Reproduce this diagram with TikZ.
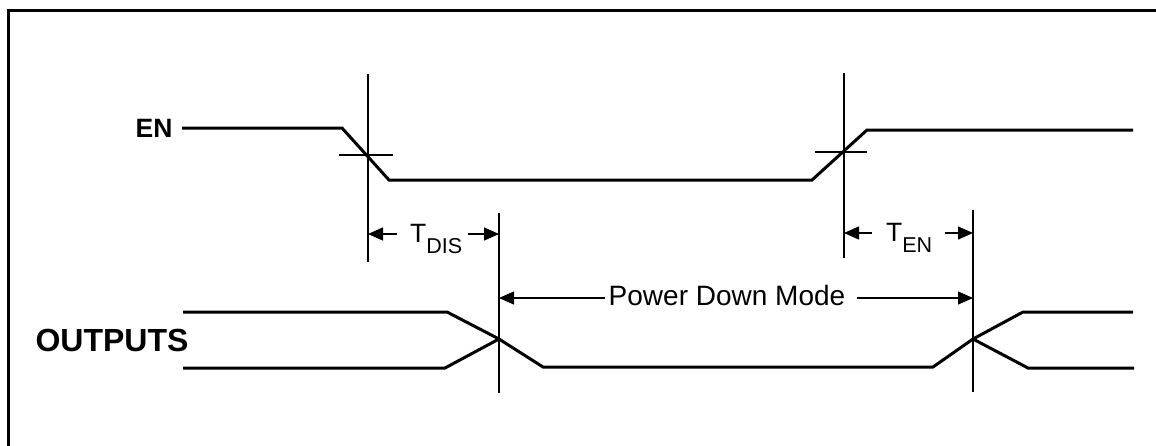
\documentclass[tikz,border=0pt]{standalone}
\usepackage{fontspec}
\setmainfont{Liberation Sans}
\usetikzlibrary{arrows.meta}
\tikzset{
    labelb/.style = {inner sep=0pt, font=\bfseries\fontsize{26.5}{30}\selectfont, text=black},
    labelbb/.style = {inner sep=0pt, font=\bfseries\fontsize{32}{36}\selectfont, text=black},
    labeln/.style = {inner sep=0pt, font=\fontsize{28}{32}\selectfont, text=black},
    labelt/.style = {inner sep=0pt, font=\fontsize{26.5}{30}\selectfont, text=black},
    edgew/.style = {-, line width=3pt, black, line join=miter}, % waveform
    edgeg/.style = {-, line width=1.1pt, black}, % guide
    edgea/.style = {-{Triangle[length=15pt,width=13pt]}, line width=1.4pt, black}, % timing
    edgef/.style = {-, line width=3pt, black} % frame
}
\newcommand{\tsub}[1]{T\raisebox{-11pt}{\fontsize{21.5}{24}\selectfont #1}}

\begin{document}
\begin{tikzpicture}[x=1pt, y=-1pt]
\useasboundingbox (0,0) rectangle (1156,445);
\clip (0,0) rectangle (1156,445);
\draw[edgef] (8,10.5) rectangle (1190,480);
%
\node[labelb] at (154,128) (en) {EN};
\node[labelbb] at (112,340) (outs) {OUTPUTS};
\node[labeln, anchor=base] at (727,305) (pd) {Power Down Mode};
\node[labelt, anchor=base west] at (410,242) (tdis) {\tsub{DIS}};
\node[labelt, anchor=base west] at (886,241) (ten) {\tsub{EN}};
%
\coordinate (g1t) at (368,74);  \coordinate (g1b) at (368,262);
\coordinate (g2t) at (499,213); \coordinate (g2b) at (499,393);
\coordinate (g3t) at (844,73);  \coordinate (g3b) at (844,258);
\coordinate (g4t) at (973,210); \coordinate (g4b) at (973,392);
\draw[edgeg] (g1t) -- (g1b);
\draw[edgeg] (g2t) -- (g2b);
\draw[edgeg] (g3t) -- (g3b);
\draw[edgeg] (g4t) -- (g4b);
\draw[edgeg] (339,155) -- (393,155);
\draw[edgeg] (815,152) -- (867,152);
%
\draw[edgew] (182,128) -- (342,128) -- (389,180) -- (812,180) -- (867,130) -- (1133,130);
\draw[edgew] (183,312) -- (447,312) -- (499,339) -- (543,367) -- (933,367) -- (973,339) -- (1023,312) -- (1133,312);
\draw[edgew] (183,368) -- (445,368) -- (499,339);
\draw[edgew] (973,339) -- (1028,368) -- (1134,368);
%
\coordinate (tdl) at (397,234); \coordinate (tdr) at (468,234);
\coordinate (tel) at (872,233); \coordinate (ter) at (945,233);
\coordinate (pdl) at (605,298); \coordinate (pdr) at (857,298);
\draw[edgea] (tdl) -- (tdl -| g1t);
\draw[edgea] (tdr) -- (tdr -| g2t);
\draw[edgea] (tel) -- (tel -| g3t);
\draw[edgea] (ter) -- (ter -| g4t);
\draw[edgea] (pdl) -- (pdl -| g2t);
\draw[edgea] (pdr) -- (pdr -| g4t);
\end{tikzpicture}
\end{document}
